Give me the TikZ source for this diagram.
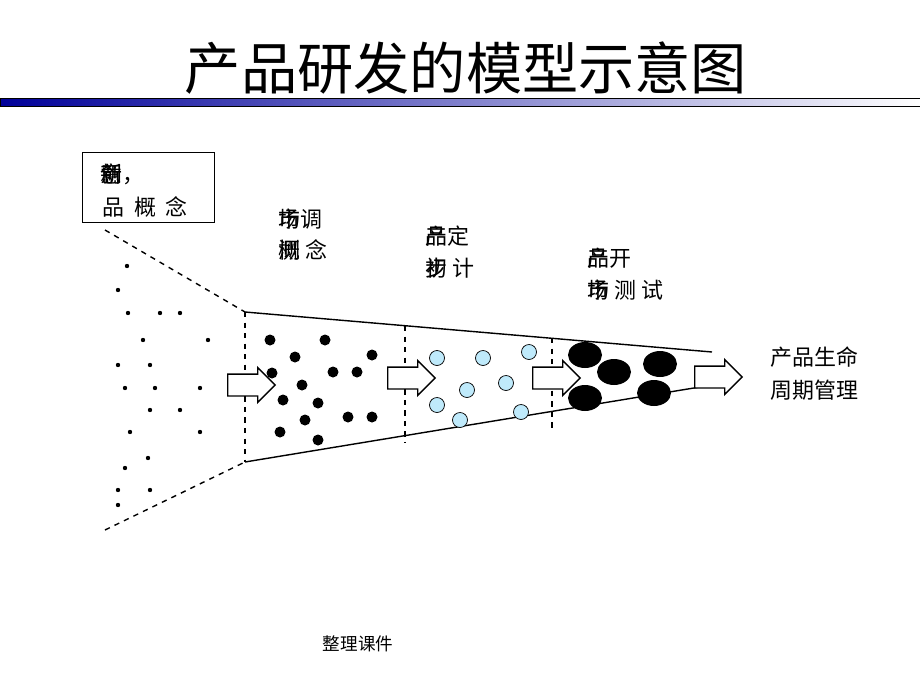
\documentclass[tikz,border=0pt]{standalone}
\usepackage{fontspec}
\setmainfont{Noto Sans CJK SC}
\usetikzlibrary{shapes.arrows,shapes.geometric}
\begin{document}
\begin{tikzpicture}[x=0.02cm,y=-0.02cm,
% common options for labels:
lbl/.style = {anchor=west, inner sep=0, font=\fontsize{12.5}{14}\selectfont},
% hollow block arrows:
blockarrow/.style = {single arrow, draw, thick, fill=white, minimum height=0.95cm,
            minimum width=0.7cm, single arrow head extend=0.08cm, inner sep=0.12cm},
% dots in the funnel:
dotsmall/.style = {circle, fill=black, inner sep=0, minimum size=2.5pt},
dotbig/.style = {circle, fill=black, inner sep=0, minimum size=0.22cm},
bubble/.style = {circle, draw, fill=cyan!25, inner sep=0, minimum size=0.3cm},
blob/.style = {ellipse, fill=black, inner sep=0, minimum width=0.68cm, minimum height=0.52cm}]
\useasboundingbox (0,0) rectangle (920,690);
\node (title) at (466,68) {\fontsize{32}{34}\selectfont 产品研发的模型示意图};
\shade[left color=blue!60!black, right color=white] (0,98) rectangle (920,106);
\draw (0,98) rectangle (920,106);
% concept box
\node[draw, thick, minimum width=2.64cm, minimum height=1.4cm, anchor=north west] (box) at (82,152) {};
\node[lbl] (box1) at (100,174) {\rlap{新}\rlap{创}意，};
\node[lbl] (box2) at (102,207) {品\ \ 概\ \ 念};
% funnel
\coordinate (p1) at (105,230); \coordinate (p2) at (245,312);
\coordinate (p3) at (105,530); \coordinate (p4) at (245,462);
\coordinate (p5) at (712,352); \coordinate (p6) at (712,385);
\draw[thick, dashed] (p1) -- (p2);
\draw[thick, dashed] (p3) -- (p4);
\draw[thick] (p2) -- (p5);
\draw[thick] (p4) -- (p6);
\draw[thick, dashed] (p2) -- (p4);
\draw[thick, dashed] (405,326) -- (405,442);
\draw[thick, dashed] (552,338) -- (552,428);
% stage labels
\node[lbl] (s1a) at (278,219) {\rlap{市}场调};
\node[lbl] (s1b) at (278,250) {\rlap{概}测\ 念};
\node[lbl] (s2a) at (425,236) {\rlap{产}品定};
\node[lbl] (s2b) at (425,268) {\rlap{初}步\ 计};
\node[lbl] (s3a) at (587,258) {\rlap{产}品开};
\node[lbl] (s3b) at (587,290) {\rlap{市}场\ 测\ 试};
\node[lbl] (life1) at (770,357) {产品生命};
\node[lbl] (life2) at (770,390) {周期管理};
% arrows
\node[blockarrow] (a1) at (246,385) {};
\node[blockarrow] (a2) at (406,378) {};
\node[blockarrow] (a3) at (551,378) {};
\node[blockarrow] (a4) at (713,377) {};
% contents
\foreach \x/\y in {127/266,118/290,128/313,160/313,180/313,143/340,208/340,118/365,150/365,
  125/388,155/388,200/388,150/410,180/410,130/432,200/432,148/458,125/468,118/490,150/490,118/505}
  \node[dotsmall] at (\x,\y) {};
\foreach \x/\y in {270/340,295/357,325/340,372/355,272/373,333/372,357/372,302/385,
  283/400,318/403,305/420,348/417,372/417,280/432,318/440}
  \node[dotbig] at (\x,\y) {};
\foreach \x/\y in {437/358,483/358,529/352,467/390,506/383,437/405,460/420,521/412}
  \node[bubble] at (\x,\y) {};
\foreach \x/\y in {585/355,614/372,660/364,585/398,654/393}
  \node[blob] at (\x,\y) {};
\node (foot) at (358,644) {\fontsize{10}{12}\selectfont 整理课件};
\end{tikzpicture}
\end{document}
